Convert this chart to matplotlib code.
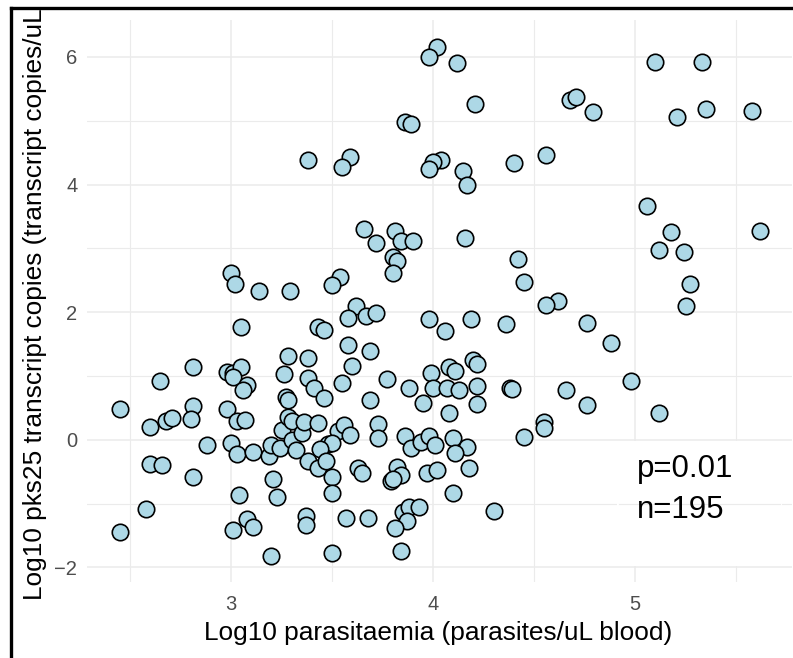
import matplotlib
matplotlib.use('Agg')
import matplotlib.pyplot as plt
from matplotlib.patches import Rectangle
from matplotlib.lines import Line2D

plt.rcParams['font.family'] = ['Liberation Sans', 'DejaVu Sans']

# log10 parasitaemia (x) and log10 pks25 copies (y)
parasitaemia = [
    5.10, 5.33, 4.68, 4.71, 4.79, 5.21, 5.35, 5.58, 4.40, 4.56,
    5.06, 5.18, 5.62, 4.42, 5.12, 5.24, 4.45, 5.27, 4.62, 4.56,
    5.25, 4.36, 4.76, 4.88, 4.98, 4.38, 4.39, 4.66, 4.76, 5.12,
    4.55, 4.55, 4.45, 4.30, 4.02, 3.98, 4.12, 4.21, 3.86, 3.89,
    3.38, 3.59, 3.55, 4.04, 4.00, 3.98, 4.15, 4.17, 3.66, 3.72,
    3.81, 3.84, 3.90, 4.16, 3.80, 3.82, 3.80, 3.00, 3.02, 3.14,
    3.29, 3.54, 3.50, 3.05, 3.62, 3.58, 3.67, 3.72, 3.98, 4.06,
    4.19, 3.43, 3.46, 3.58, 3.69, 3.28, 3.38, 2.81, 2.65, 2.98,
    3.01, 3.05, 3.01, 3.08, 3.06, 3.26, 3.60, 3.55, 3.38, 3.41,
    3.77, 3.99, 4.08, 4.11, 4.20, 4.22, 3.88, 4.00, 4.07, 4.13,
    4.22, 3.95, 4.08, 4.22, 3.69, 3.46, 3.27, 3.28, 2.45, 2.81,
    2.98, 2.60, 2.68, 2.71, 2.80, 3.03, 3.07, 2.88, 3.00, 3.03,
    3.11, 3.19, 3.20, 3.24, 3.25, 3.28, 3.30, 3.30, 3.32, 3.35,
    3.36, 3.43, 3.53, 3.56, 3.59, 3.48, 3.50, 3.44, 3.73, 3.73,
    3.86, 3.89, 3.94, 3.98, 4.01, 4.10, 4.17, 4.11, 3.38, 3.43,
    3.47, 3.50, 3.50, 3.63, 3.65, 3.82, 3.84, 3.79, 3.80, 3.97,
    4.02, 4.18, 4.10, 3.37, 3.37, 3.57, 3.68, 3.85, 3.88, 3.93,
    3.87, 3.81, 3.50, 3.84, 2.60, 2.66, 2.81, 3.21, 3.04, 3.23,
    2.58, 2.45, 3.01, 3.08, 3.11, 3.20,
]
pks25 = [
    5.92, 5.92, 5.33, 5.38, 5.13, 5.06, 5.19, 5.16, 4.34, 4.47,
    3.66, 3.25, 3.27, 2.83, 2.97, 2.94, 2.48, 2.44, 2.17, 2.11,
    2.09, 1.81, 1.83, 1.52, 0.92, 0.81, 0.80, 0.78, 0.55, 0.42,
    0.28, 0.19, 0.05, -1.11, 6.16, 6.00, 5.91, 5.27, 4.98, 4.95,
    4.39, 4.44, 4.27, 4.39, 4.36, 4.25, 4.22, 4.00, 3.30, 3.08,
    3.27, 3.11, 3.11, 3.16, 2.86, 2.80, 2.61, 2.61, 2.44, 2.33,
    2.33, 2.55, 2.42, 1.77, 2.09, 1.91, 1.94, 1.98, 1.89, 1.70,
    1.89, 1.77, 1.72, 1.48, 1.39, 1.31, 1.28, 1.14, 0.92, 1.06,
    1.05, 1.14, 0.98, 0.86, 0.78, 1.03, 1.16, 0.89, 0.97, 0.81,
    0.95, 1.05, 1.14, 1.08, 1.25, 1.19, 0.81, 0.81, 0.81, 0.78,
    0.84, 0.58, 0.42, 0.56, 0.63, 0.66, 0.67, 0.63, 0.48, 0.53,
    0.48, 0.20, 0.30, 0.34, 0.33, 0.30, 0.31, -0.09, -0.05, -0.22,
    -0.19, -0.25, -0.08, -0.13, 0.16, 0.36, 0.30, 0.00, -0.16, 0.11,
    0.28, 0.27, 0.14, 0.23, 0.08, -0.06, -0.05, -0.14, 0.25, 0.02,
    0.06, -0.13, -0.03, 0.06, -0.09, 0.03, -0.11, -0.20, -0.34, -0.44,
    -0.34, -0.59, -0.83, -0.44, -0.52, -0.42, -0.56, -0.64, -0.61, -0.52,
    -0.48, -0.45, -0.83, -1.19, -1.33, -1.22, -1.22, -1.13, -1.05, -1.06,
    -1.28, -1.39, -1.78, -1.75, -0.38, -0.39, -0.58, -0.61, -0.86, -0.89,
    -1.08, -1.44, -1.41, -1.25, -1.36, -1.83,
]

x_ticks = [3, 4, 5]
y_ticks = [-2, 0, 2, 4, 6]
label_p = 'p=0.01'
label_n = 'n=195'

W, H = 793, 658
fig = plt.figure(figsize=(W / 100, H / 100), dpi=100)


def fx(px):
    return px / W


def fy(py):
    return 1 - py / H


ax = fig.add_axes([fx(87), fy(582), fx(792) - fx(87), fy(20) - fy(582)])
ax.set_xlim(2.287, 5.777)
ax.set_ylim(-2.23, 6.58)

grid_col = '#ebebeb'
ax.set_xticks(x_ticks)
ax.set_yticks(y_ticks)
ax.set_xticks([2.5, 3.5, 4.5, 5.5], minor=True)
ax.set_yticks([-1, 1, 3, 5], minor=True)
ax.grid(True, which='major', color=grid_col, lw=1.1, zorder=0)
ax.grid(True, which='minor', color=grid_col, lw=0.8, zorder=0)
ax.set_axisbelow(True)
for s in ax.spines.values():
    s.set_visible(False)
ax.tick_params(which='both', length=0)
ax.tick_params(axis='x', pad=9, labelsize=14.5, labelcolor='#4d4d4d')
ax.tick_params(axis='y', pad=7, labelsize=14.5, labelcolor='#4d4d4d')

ax.scatter(parasitaemia, pks25, s=140, c='#add8e6', edgecolors='black',
           linewidths=1.2, zorder=3)

# white label box behind the annotation (hides vertical grid lines)
ax.add_patch(Rectangle((4.911, -1.98), 0.817, 1.96, facecolor='white',
                       edgecolor='none', zorder=1))
ax.plot([4.92, 5.72], [-1, -1], color=grid_col, lw=0.8, zorder=1.5)

fig.text(fx(637), fy(477), label_p, fontsize=22.5, va='baseline', ha='left')
fig.text(fx(637), fy(518), label_n, fontsize=22.5, va='baseline', ha='left')

fig.text(fx(438), fy(633), 'Log10 parasitaemia (parasites/uL blood)',
         fontsize=18.9, ha='center', va='center')
fig.text(fx(35), fy(600), 'Log10 pks25 transcript copies (transcript copies/uL)',
         fontsize=18.9, rotation=90, ha='center', va='bottom')

# cropped-screenshot frame: white strip on top, black lines top and left
fig.patches.append(Rectangle((0, fy(7)), 1, 1 - fy(7), transform=fig.transFigure,
                             facecolor='white', edgecolor='none', zorder=10))
fig.patches.append(Rectangle((0, 0), fx(10), 1, transform=fig.transFigure,
                             facecolor='white', edgecolor='none', zorder=10))
fig.lines.append(Line2D([fx(11), 1], [fy(8), fy(8)], transform=fig.transFigure,
                        color='black', lw=2.4, zorder=11))
fig.lines.append(Line2D([fx(11), fx(11)], [0, fy(8)], transform=fig.transFigure,
                        color='black', lw=2.4, zorder=11))

fig.savefig('out.png', dpi=100)
